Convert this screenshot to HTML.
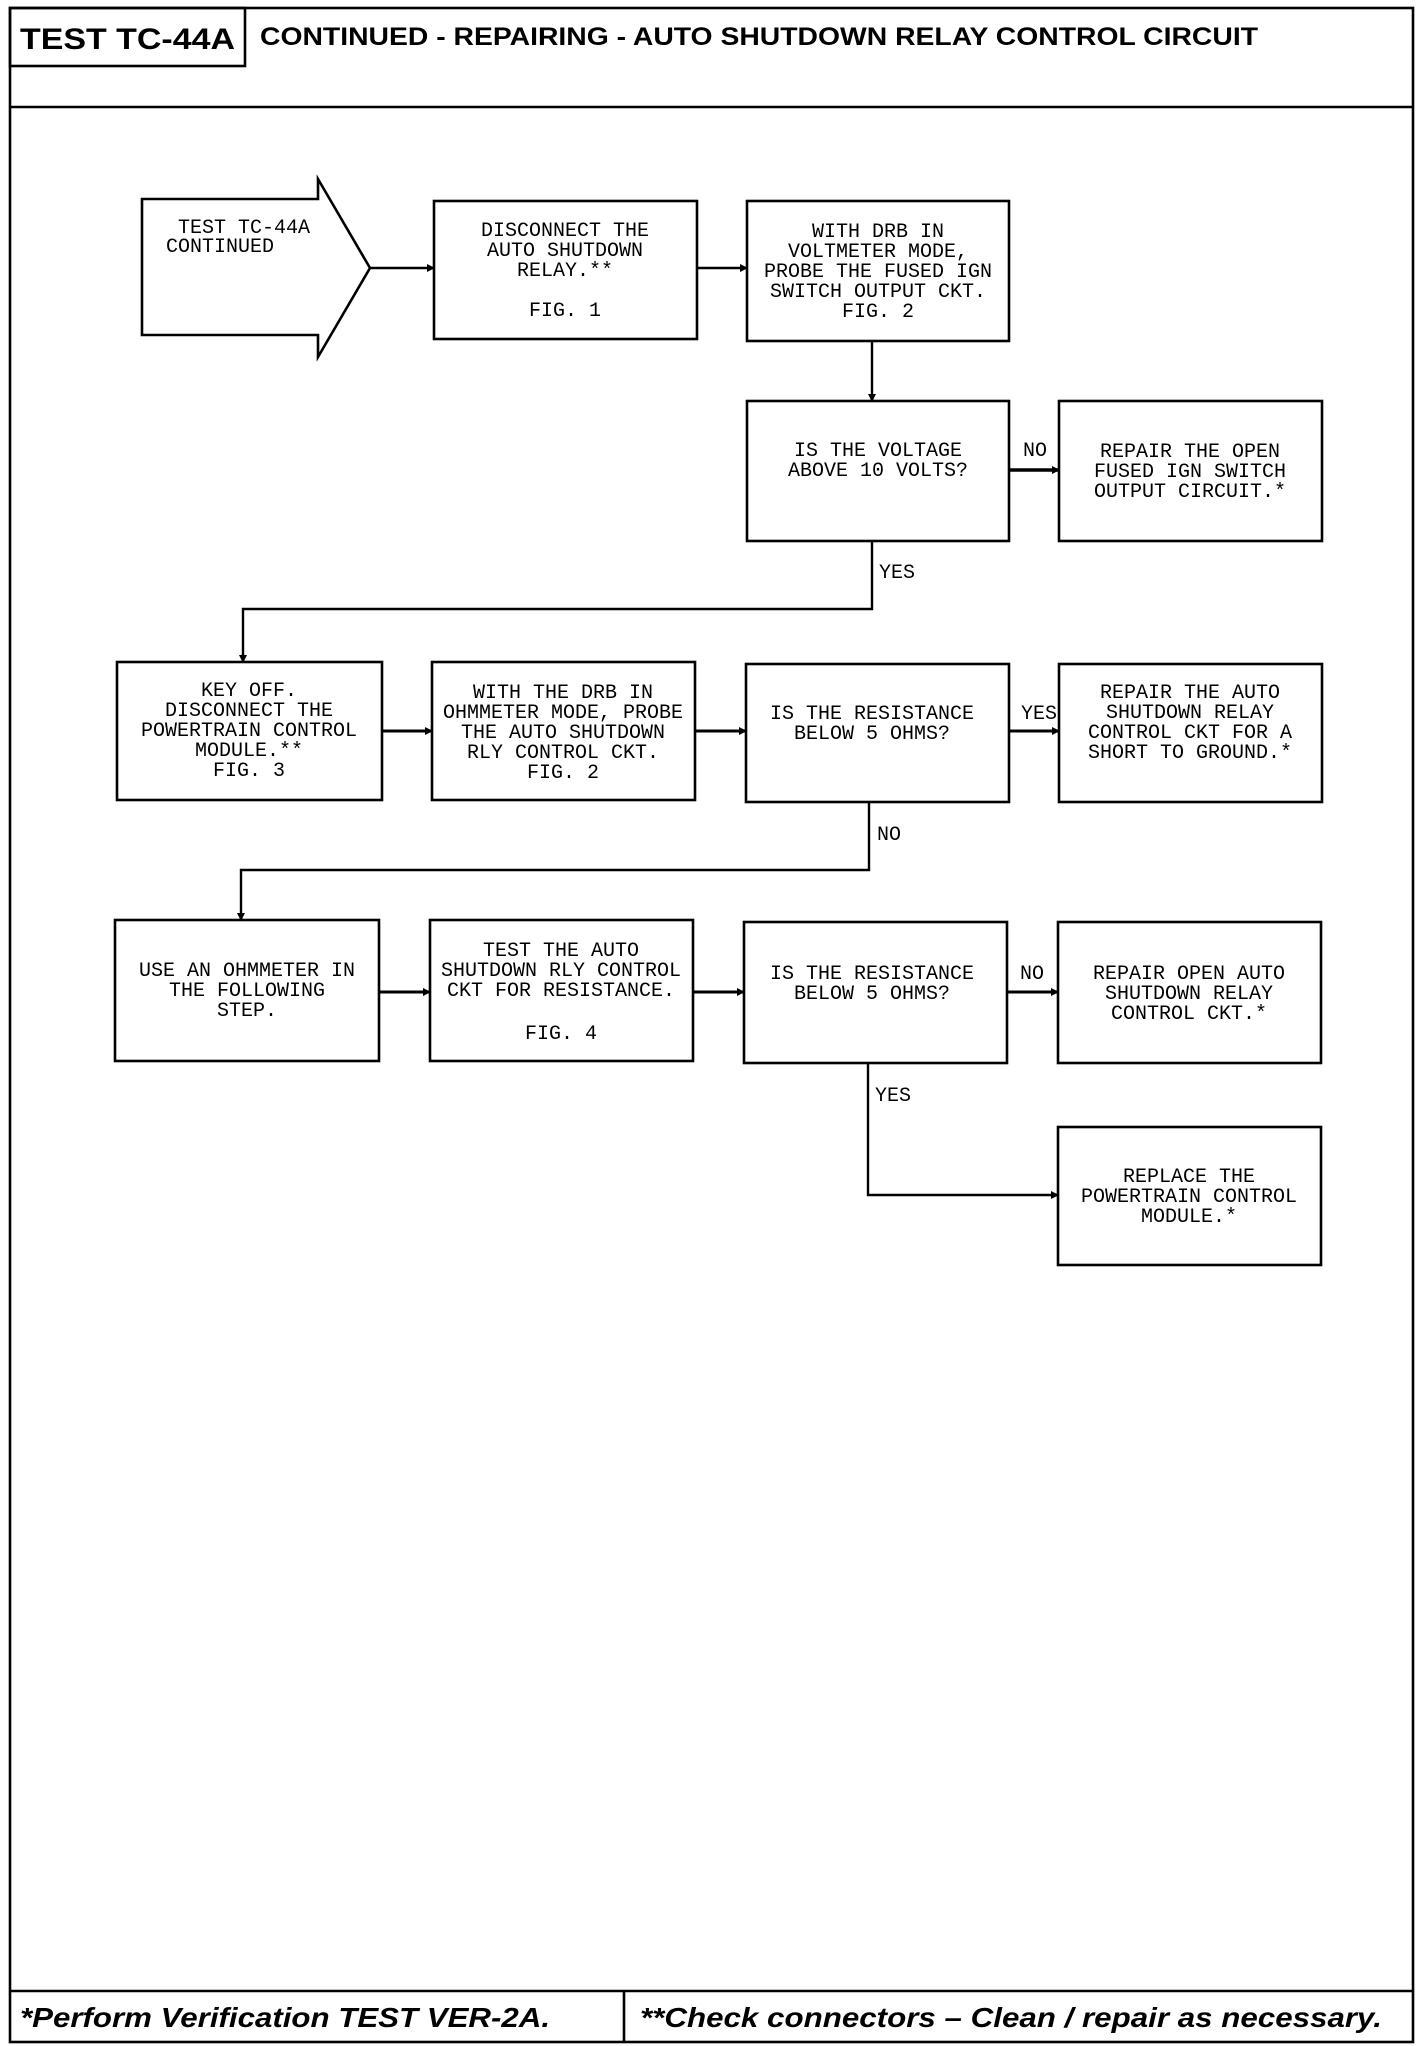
<!DOCTYPE html>
<html><head><meta charset="utf-8"><style>
html,body{margin:0;padding:0;background:#fff;}
svg{display:block;}
.t{font-family:"Liberation Mono",monospace;font-size:20px;fill:#000;text-anchor:middle;}
.l{font-family:"Liberation Mono",monospace;font-size:20px;fill:#000;}
</style></head><body>
<svg width="1424" height="2046" viewBox="0 0 1424 2046" xmlns="http://www.w3.org/2000/svg">
<defs><marker id="a" markerWidth="8" markerHeight="8" refX="7" refY="4" orient="auto" markerUnits="userSpaceOnUse"><path d="M0,0 L8,4 L0,8 z" fill="#000"/></marker></defs>
<g fill="none" stroke="#000" stroke-width="2.6">
<rect x="10" y="8" width="1403" height="2034"/>
<line x1="10" y1="107" x2="1413" y2="107"/>
<rect x="10" y="8" width="235" height="58"/>
<line x1="10" y1="1991" x2="1413" y2="1991"/>
<line x1="624" y1="1991" x2="624" y2="2042"/>
<path d="M142,199 L318,199 L318,179 L370,268 L318,357 L318,335 L142,335 Z"/>
<rect x="434" y="201" width="263" height="138"/>
<rect x="747" y="201" width="262" height="140"/>
<rect x="747" y="401" width="262" height="140"/>
<rect x="1059" y="401" width="263" height="140"/>
<rect x="117" y="662" width="265" height="138"/>
<rect x="432" y="662" width="263" height="138"/>
<rect x="746" y="664" width="263" height="138"/>
<rect x="1059" y="664" width="263" height="138"/>
<rect x="115" y="920" width="264" height="141"/>
<rect x="430" y="920" width="263" height="141"/>
<rect x="744" y="922" width="263" height="141"/>
<rect x="1058" y="922" width="263" height="141"/>
<rect x="1058" y="1127" width="263" height="138"/>
</g>
<g fill="none" stroke="#000" stroke-width="2.4">
<line x1="370" y1="268" x2="434" y2="268" marker-end="url(#a)"/>
<line x1="697" y1="268" x2="747" y2="268" marker-end="url(#a)"/>
<line x1="872" y1="341" x2="872" y2="401" marker-end="url(#a)"/>
<line x1="1009" y1="470" x2="1059" y2="470" stroke-width="3.5" marker-end="url(#a)"/>
<polyline points="872,541 872,609 243,609 243,662" marker-end="url(#a)"/>
<line x1="382" y1="731" x2="432" y2="731" stroke-width="3" marker-end="url(#a)"/>
<line x1="695" y1="731" x2="746" y2="731" stroke-width="3" marker-end="url(#a)"/>
<line x1="1009" y1="731" x2="1059" y2="731" stroke-width="3" marker-end="url(#a)"/>
<polyline points="869,802 869,870 241,870 241,920" marker-end="url(#a)"/>
<line x1="379" y1="992" x2="430" y2="992" stroke-width="3" marker-end="url(#a)"/>
<line x1="693" y1="992" x2="744" y2="992" stroke-width="3" marker-end="url(#a)"/>
<line x1="1007" y1="992" x2="1058" y2="992" stroke-width="3" marker-end="url(#a)"/>
<polyline points="868,1063 868,1195 1058,1195" marker-end="url(#a)"/>
</g>
<text x="20" y="49" font-family="Liberation Sans,sans-serif" font-weight="bold" font-size="30" textLength="215" lengthAdjust="spacingAndGlyphs">TEST TC-44A</text>
<text x="260" y="45" font-family="Liberation Sans,sans-serif" font-weight="bold" font-size="25" textLength="998" lengthAdjust="spacingAndGlyphs">CONTINUED - REPAIRING - AUTO SHUTDOWN RELAY CONTROL CIRCUIT</text>
<text x="20" y="2027" font-family="Liberation Sans,sans-serif" font-weight="bold" font-style="italic" font-size="28" textLength="530" lengthAdjust="spacingAndGlyphs">*Perform Verification TEST VER-2A.</text>
<text x="640" y="2027" font-family="Liberation Sans,sans-serif" font-weight="bold" font-style="italic" font-size="28" textLength="742" lengthAdjust="spacingAndGlyphs">**Check connectors – Clean / repair as necessary.</text>
<text class="l" x="178" y="233">TEST TC-44A</text>
<text class="l" x="166" y="252">CONTINUED</text>
<g class="t">
<text x="565" y="236">DISCONNECT THE</text><text x="565" y="256">AUTO SHUTDOWN</text><text x="565" y="276">RELAY.**</text><text x="565" y="316">FIG. 1</text>
<text x="878" y="237">WITH DRB IN</text><text x="878" y="257">VOLTMETER MODE,</text><text x="878" y="277">PROBE THE FUSED IGN</text><text x="878" y="297">SWITCH OUTPUT CKT.</text><text x="878" y="317">FIG. 2</text>
<text x="878" y="456">IS THE VOLTAGE</text><text x="878" y="476">ABOVE 10 VOLTS?</text>
<text x="1190" y="457">REPAIR THE OPEN</text><text x="1190" y="477">FUSED IGN SWITCH</text><text x="1190" y="497">OUTPUT CIRCUIT.*</text>
<text x="249" y="696">KEY OFF.</text><text x="249" y="716">DISCONNECT THE</text><text x="249" y="736">POWERTRAIN CONTROL</text><text x="249" y="756">MODULE.**</text><text x="249" y="776">FIG. 3</text>
<text x="563" y="698">WITH THE DRB IN</text><text x="563" y="718">OHMMETER MODE, PROBE</text><text x="563" y="738">THE AUTO SHUTDOWN</text><text x="563" y="758">RLY CONTROL CKT.</text><text x="563" y="778">FIG. 2</text>
<text x="872" y="719">IS THE RESISTANCE</text><text x="872" y="739">BELOW 5 OHMS?</text>
<text x="1190" y="698">REPAIR THE AUTO</text><text x="1190" y="718">SHUTDOWN RELAY</text><text x="1190" y="738">CONTROL CKT FOR A</text><text x="1190" y="758">SHORT TO GROUND.*</text>
<text x="247" y="976">USE AN OHMMETER IN</text><text x="247" y="996">THE FOLLOWING</text><text x="247" y="1016">STEP.</text>
<text x="561" y="956">TEST THE AUTO</text><text x="561" y="976">SHUTDOWN RLY CONTROL</text><text x="561" y="996">CKT FOR RESISTANCE.</text><text x="561" y="1039">FIG. 4</text>
<text x="872" y="979">IS THE RESISTANCE</text><text x="872" y="999">BELOW 5 OHMS?</text>
<text x="1189" y="979">REPAIR OPEN AUTO</text><text x="1189" y="999">SHUTDOWN RELAY</text><text x="1189" y="1019">CONTROL CKT.*</text>
<text x="1189" y="1182">REPLACE THE</text><text x="1189" y="1202">POWERTRAIN CONTROL</text><text x="1189" y="1222">MODULE.*</text>
</g>
<text class="l" x="1023" y="456">NO</text>
<text class="l" x="879" y="578">YES</text>
<text class="l" x="1021" y="719">YES</text>
<text class="l" x="877" y="840">NO</text>
<text class="l" x="1020" y="979">NO</text>
<text class="l" x="875" y="1101">YES</text>
</svg>
</body></html>
